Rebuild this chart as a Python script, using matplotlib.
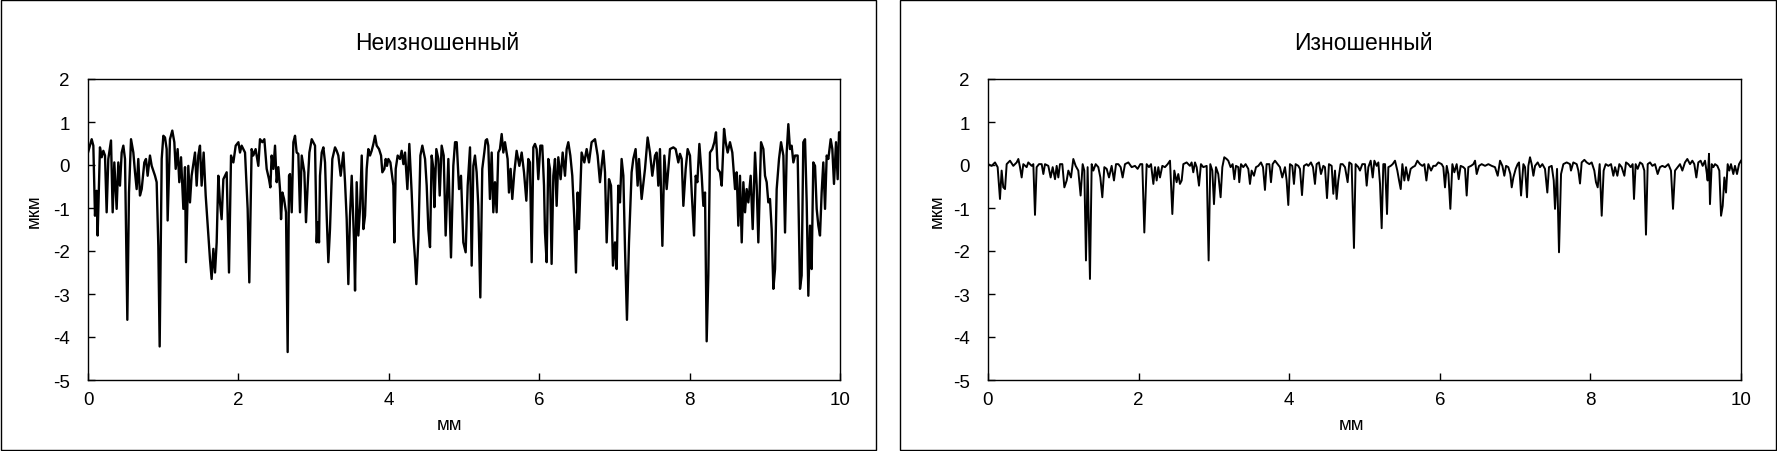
import matplotlib
matplotlib.use('Agg')
import matplotlib.pyplot as plt
from matplotlib.patches import Rectangle

plt.rcParams['font.family'] = ['Liberation Sans', 'DejaVu Sans']
plt.rcParams['axes.unicode_minus'] = False

# profile, unworn surface (mm, um)
x_new = [0.0, 0.049, 0.071, 0.093, 0.115, 0.128, 0.159, 0.182, 0.204, 0.226, 0.248, 0.270, 0.306, 0.328,
         0.350, 0.381, 0.403, 0.425, 0.448, 0.470, 0.492, 0.523, 0.545, 0.572, 0.603, 0.625, 0.647, 0.669,
         0.691, 0.714, 0.749, 0.771, 0.793, 0.824, 0.847, 0.891, 0.913, 0.935, 0.953, 0.980, 1.002, 1.024,
         1.046, 1.059, 1.090, 1.121, 1.148, 1.166, 1.192, 1.214, 1.237, 1.268, 1.290, 1.303, 1.334, 1.356,
         1.378, 1.423, 1.445, 1.467, 1.489, 1.511, 1.538, 1.565, 1.600, 1.622, 1.644, 1.667, 1.689, 1.711,
         1.733, 1.755, 1.777, 1.800, 1.844, 1.875, 1.902, 1.933, 1.964, 2.000, 2.021, 2.043, 2.088, 2.123,
         2.145, 2.176, 2.198, 2.229, 2.265, 2.287, 2.318, 2.345, 2.376, 2.407, 2.425, 2.442, 2.465,
         2.487, 2.509, 2.531, 2.553, 2.567, 2.585, 2.607, 2.633, 2.655, 2.673, 2.686, 2.709, 2.731, 2.753,
         2.775, 2.797, 2.819, 2.842, 2.877, 2.899, 2.921, 2.944, 2.975, 3.019, 3.041, 3.054, 3.072, 3.085,
         3.108, 3.130, 3.152, 3.174, 3.196, 3.218, 3.249, 3.285, 3.307, 3.329, 3.360, 3.396, 3.418, 3.440,
         3.462, 3.484, 3.507, 3.538, 3.551, 3.573, 3.595, 3.617, 3.640, 3.662, 3.684, 3.706, 3.728, 3.750,
         3.772, 3.795, 3.817, 3.839, 3.870, 3.897, 3.914, 3.941, 3.959, 3.976, 3.994, 4.021, 4.038, 4.061,
         4.074, 4.092, 4.118, 4.149, 4.171, 4.194, 4.216, 4.247, 4.273, 4.304, 4.327, 4.349, 4.366, 4.393,
         4.420, 4.446, 4.482, 4.504, 4.526, 4.548, 4.570, 4.593, 4.606, 4.632, 4.659, 4.677, 4.703, 4.730,
         4.756, 4.792, 4.827, 4.858, 4.881, 4.903, 4.934, 4.960, 4.991, 5.022,
         5.049, 5.080, 5.102, 5.124, 5.146, 5.168, 5.190, 5.217, 5.243, 5.270, 5.288, 5.306, 5.323, 5.345,
         5.368, 5.390, 5.412, 5.434, 5.456, 5.478, 5.501, 5.523, 5.545, 5.580, 5.598, 5.620, 5.642, 5.669,
         5.700, 5.736, 5.767, 5.798, 5.829, 5.855, 5.877, 5.900, 5.922, 5.944, 5.966, 5.988, 6.015, 6.041,
         6.064, 6.077, 6.099, 6.121, 6.143, 6.165, 6.188, 6.210, 6.232, 6.254, 6.285, 6.312, 6.343, 6.365,
         6.387, 6.414, 6.440, 6.467, 6.489, 6.511, 6.529, 6.564, 6.600, 6.631, 6.662, 6.697, 6.742, 6.777,
         6.808, 6.830, 6.853, 6.875, 6.897, 6.928, 6.955, 6.981, 7.008, 7.030, 7.052, 7.074, 7.096, 7.119,
         7.141, 7.167, 7.194, 7.229, 7.251, 7.282, 7.309, 7.327, 7.362, 7.407, 7.442, 7.473, 7.504, 7.540,
         7.562, 7.584, 7.606, 7.638, 7.664, 7.695, 7.717, 7.739, 7.784, 7.815, 7.850, 7.872, 7.895, 7.917,
         7.948, 7.974, 8.005, 8.028, 8.059, 8.081, 8.103, 8.130, 8.161, 8.183, 8.205, 8.227, 8.249, 8.271,
         8.302, 8.329, 8.351, 8.373, 8.404, 8.427, 8.458, 8.480, 8.506, 8.537, 8.568, 8.604, 8.626, 8.648,
         8.670, 8.693, 8.715, 8.737, 8.759, 8.781, 8.812, 8.839, 8.870, 8.892, 8.914, 8.950, 8.981, 9.003,
         9.025, 9.047, 9.069, 9.091, 9.114, 9.136, 9.158, 9.189, 9.216, 9.247, 9.269, 9.291, 9.313, 9.335,
         9.357, 9.380, 9.402, 9.437, 9.468, 9.490, 9.512, 9.535, 9.557, 9.579, 9.601, 9.623, 9.645, 9.668,
         9.690, 9.712, 9.734, 9.756, 9.778, 9.801, 9.823, 9.845, 9.876, 9.898, 9.920, 9.947, 9.969, 9.987,
         10.0]
y_new = [0.29, 0.60, 0.45, -1.18, -0.60, -1.64, 0.41, 0.18, 0.33, 0.22, -1.10, 0.14, 0.57, -1.10,
         0.06, -1.02, 0.06, -0.48, 0.29, 0.45, 0.14, -3.60, -0.64, 0.60, 0.29, -0.17, -0.56, 0.14,
         -0.71, -0.56, 0.06, 0.14, -0.25, 0.22, -0.02, -0.25, -0.40, -1.88, -4.22, 0.14, 0.68, 0.64,
         0.37, -1.29, 0.60, 0.80, 0.53, -0.09, 0.37, -0.40, 0.18, -1.02, -0.05, -2.26, -0.02, -0.87,
         -0.25, 0.29, -0.48, 0.22, 0.45, -0.48, 0.29, -0.71, -1.64, -2.19, -2.65, -1.95, -2.50, -1.80,
         -0.25, -0.87, -1.26, -0.33, -0.17, -2.50, 0.22, 0.06, 0.45, 0.53, 0.29, 0.45, 0.29, -1.02,
         -2.73, 0.37, 0.22, 0.37, -0.02, 0.60, 0.53, 0.60, -0.09, -0.33, -0.52, 0.22, -0.09,
         0.45, -0.40, -0.05, -0.56, -1.26, -0.64, -0.79, -1.10, -4.35, -0.25, -0.21, -1.10, 0.53, 0.68,
         0.29, 0.26, -1.10, 0.22, -0.17, -1.33, -0.48, 0.29, 0.60, 0.45, -1.80, -1.33, -1.80, -0.25,
         0.29, 0.41, 0.06, -1.18, -2.26, -1.49, 0.14, 0.41, 0.33, 0.22, -0.25, 0.29, -0.40, -1.26,
         -2.77, -1.18, -0.25, -1.80, -2.92, -0.40, -1.64, -1.02, 0.22, -1.49, -1.18, -0.09, 0.37, 0.22,
         0.33, 0.49, 0.68, 0.45, 0.37, 0.22, -0.17, -0.09, 0.14, -0.02, 0.14, 0.06, -0.17, -0.48,
         -1.80, -0.09, 0.22, 0.14, 0.33, 0.02, 0.29, -0.56, 0.49, -0.64, -1.64, -2.19, -2.77, -1.72,
         0.22, 0.45, 0.14, -0.48, -1.49, -1.91, 0.22, -0.09, -0.98, 0.37, 0.14, -0.71, 0.45, 0.22,
         -1.64, 0.14, -2.15, -0.02, 0.53, 0.53, -0.56, -0.25, -1.80, -2.03,
         -0.48, 0.41, -2.34, -0.02, 0.22, -0.17, -0.95, -3.08, -0.09, 0.29, 0.57, 0.60, 0.45, -0.79,
         0.29, -1.10, -0.40, -1.10, 0.29, 0.37, 0.72, 0.29, 0.53, 0.14, -0.64, -0.09, -0.79, -0.17,
         0.33, -0.02, 0.29, -0.17, -0.83, 0.14, 0.06, -2.26, 0.41, 0.49, 0.37, -0.33, 0.45, 0.45,
         -0.48, -1.57, -2.26, 0.14, -0.09, -2.30, -0.25, 0.14, -0.95, 0.18, -0.33, 0.29, -0.25, 0.37,
         0.53, 0.22, -0.25, -1.26, -2.50, -0.64, -1.49, 0.29, 0.06, 0.37, 0.06, 0.53, 0.60, 0.22,
         -0.40, -0.02, 0.33, -0.17, -1.80, -0.33, -0.48, -2.34, -1.80, -2.42, -0.48, -0.87, 0.14, -0.25,
         -1.95, -3.60, -1.80, -0.17, 0.14, 0.37, -0.48, 0.14, -0.79, -0.09, 0.64, 0.29, -0.25, 0.22,
         0.29, -0.48, 0.37, -1.88, 0.22, -0.56, -0.09, 0.37, 0.41, 0.37, 0.06, 0.26, 0.14, -0.95,
         -0.09, 0.37, 0.22, -0.64, -1.64, -0.25, -0.40, 0.49, -0.25, -0.95, -0.64, -4.10, -2.57, 0.29,
         0.37, 0.53, 0.76, -0.09, -0.17, -0.48, 0.84, 0.53, 0.29, 0.53, 0.29, -0.56, -0.17, -1.41,
         -0.25, -1.80, -0.40, -1.10, -0.56, -0.87, -0.25, -1.49, 0.29, -0.48, -1.80, 0.53, 0.37, -0.25,
         -0.40, -0.87, -0.79, -1.49, -2.88, -2.42, -0.56, 0.14, 0.53, 0.22, -1.57, 0.29, 0.95, 0.37,
         0.45, 0.06, 0.22, 0.22, -2.88, -2.57, 0.53, 0.60, -0.87, -3.04, -1.41, -2.42, 0.06, -0.02,
         -1.02, -1.41, -1.64, -0.64, 0.06, -1.02, 0.22, 0.14, 0.60, 0.37, -0.44, 0.53, -0.33, 0.76,
         0.76]

# profile, worn surface (mm, um)
x_worn = [0.0, 0.049, 0.093, 0.128, 0.159, 0.181, 0.203, 0.226, 0.248, 0.292, 0.336, 0.381, 0.403, 0.425,
          0.447, 0.469, 0.513, 0.535, 0.580, 0.602, 0.624, 0.646, 0.677, 0.713, 0.735, 0.757, 0.801, 0.832,
          0.859, 0.890, 0.912, 0.934, 0.956, 0.987, 1.014, 1.045, 1.067, 1.102, 1.133, 1.164, 1.199, 1.230,
          1.257, 1.279, 1.301, 1.323, 1.354, 1.377, 1.399, 1.430, 1.465, 1.492, 1.518, 1.545, 1.576, 1.607,
          1.642, 1.673, 1.700, 1.731, 1.762, 1.788, 1.819, 1.864, 1.908, 1.952, 1.987, 2.023, 2.049, 2.076,
          2.107, 2.138, 2.165, 2.196, 2.218, 2.240, 2.262, 2.284, 2.315, 2.350, 2.386, 2.417, 2.448, 2.474,
          2.505, 2.527, 2.549, 2.572, 2.594, 2.638, 2.682, 2.704, 2.726, 2.749, 2.771, 2.802, 2.828, 2.859,
          2.904, 2.930, 2.952, 2.979, 3.001, 3.027, 3.058, 3.089, 3.112, 3.138, 3.169, 3.191, 3.222, 3.249,
          3.271, 3.293, 3.324, 3.337, 3.360, 3.390, 3.421, 3.457, 3.479, 3.501, 3.532, 3.559, 3.590, 3.625,
          3.652, 3.678, 3.700, 3.736, 3.758, 3.780, 3.811, 3.846, 3.877, 3.908, 3.944, 3.966, 3.988, 4.010,
          4.041, 4.063, 4.085, 4.121, 4.143, 4.170, 4.196, 4.232, 4.254, 4.289, 4.316, 4.342, 4.364, 4.395,
          4.422, 4.453, 4.475, 4.502, 4.528, 4.564, 4.586, 4.608, 4.630, 4.652, 4.683, 4.710, 4.741, 4.776,
          4.798, 4.829, 4.860, 4.882, 4.918, 4.940, 4.971, 5.006,
          5.029, 5.051, 5.082, 5.109, 5.131, 5.162, 5.184, 5.206, 5.228, 5.250, 5.273, 5.299, 5.317, 5.348,
          5.374, 5.405, 5.436, 5.459, 5.481, 5.503, 5.529, 5.551, 5.582, 5.613, 5.640, 5.671, 5.702, 5.737,
          5.768, 5.795, 5.822, 5.848, 5.884, 5.914, 5.945, 5.981, 6.025, 6.047, 6.069, 6.092, 6.114, 6.140,
          6.167, 6.193, 6.224, 6.251, 6.277, 6.313, 6.335, 6.357, 6.379, 6.415, 6.446, 6.468, 6.490, 6.521,
          6.556, 6.601, 6.645, 6.689, 6.733, 6.769, 6.800, 6.831, 6.857, 6.880, 6.910, 6.937, 6.955, 6.977,
          7.008, 7.034, 7.052, 7.079, 7.110, 7.132, 7.158, 7.176, 7.198, 7.220, 7.243, 7.265, 7.300, 7.331,
          7.362, 7.397, 7.428, 7.450, 7.486, 7.513, 7.530, 7.557, 7.583,
          7.610, 7.641, 7.685, 7.729, 7.742, 7.773, 7.818, 7.840, 7.862, 7.884, 7.920, 7.951, 7.986, 8.017,
          8.052, 8.074, 8.097, 8.123, 8.150, 8.176, 8.203, 8.238, 8.274, 8.305, 8.327, 8.358, 8.384, 8.415,
          8.451, 8.473, 8.504, 8.535, 8.561, 8.579, 8.601, 8.628, 8.659, 8.690, 8.716, 8.738, 8.761, 8.792,
          8.823, 8.858, 8.893, 8.924, 8.955, 8.991, 9.035, 9.070, 9.097, 9.124, 9.159, 9.190, 9.221, 9.256,
          9.287, 9.323, 9.354, 9.380, 9.407, 9.433, 9.464, 9.491, 9.522, 9.544, 9.557, 9.575, 9.588, 9.611,
          9.633, 9.655, 9.686, 9.712, 9.735, 9.757, 9.779, 9.801, 9.823, 9.845, 9.867, 9.898, 9.920, 9.947,
          9.974, 10.0]
y_worn = [0.02, -0.02, 0.06, -0.05, -0.79, -0.13, -0.52, -0.56, 0.02, 0.10, -0.02, 0.06, 0.14, -0.05,
          -0.29, 0.02, -0.05, 0.06, -0.02, 0.02, -1.16, -0.05, 0.02, 0.02, -0.21, 0.02, -0.02, -0.29,
          -0.05, -0.33, -0.02, -0.29, 0.02, 0.02, -0.52, -0.36, -0.13, -0.29, 0.14, -0.02, -0.13, -0.71,
          0.02, -0.13, -2.22, -0.05, -2.65, 0.02, -0.13, 0.02, -0.05, -0.29, -0.75, -0.05, -0.09, -0.29,
          -0.02, -0.36, 0.02, 0.02, -0.05, -0.29, 0.02, 0.06, -0.05, -0.02, -0.09, 0.02, 0.02, -1.57,
          0.02, -0.05, 0.02, -0.44, -0.05, -0.36, -0.05, -0.29, -0.02, -0.05, 0.02, 0.10, -1.14, -0.13,
          -0.40, -0.21, -0.44, -0.36, 0.02, 0.06, -0.02, 0.06, -0.17, 0.06, -0.05, -0.48, 0.02, -0.05,
          -0.02, -2.22, 0.02, -0.13, -0.91, -0.05, -0.21, -0.75, -0.05, 0.18, 0.14, 0.10, -0.05, 0.02,
          -0.33, -0.02, -0.05, -0.40, 0.02, -0.05, 0.02, -0.09, -0.44, -0.13, -0.25, -0.05, -0.02, 0.06,
          -0.05, -0.58, 0.02, 0.02, -0.40, 0.02, 0.10, 0.02, -0.05, -0.29, -0.05, -0.36, -0.93, 0.02,
          -0.02, -0.44, 0.02, -0.02, -0.09, -0.70, -0.02, 0.02, -0.02, 0.06, -0.05, -0.44, 0.02, 0.06,
          -0.21, -0.02, -0.05, -0.77, 0.02, -0.02, -0.67, -0.13, -0.79, -0.36, 0.02, 0.02, -0.05, -0.40,
          0.06, 0.02, -1.93, 0.02, -0.05, -0.13, 0.02, 0.02,
          -0.48, -0.05, 0.10, -0.29, 0.10, -0.02, 0.06, -0.44, -1.47, 0.02, 0.02, -1.14, -0.05, -0.02,
          0.02, 0.10, -0.13, -0.36, -0.56, 0.02, -0.36, -0.05, -0.36, -0.09, -0.05, -0.02, 0.10, 0.02,
          -0.02, 0.02, -0.36, 0.02, -0.13, -0.02, -0.02, 0.06, 0.02, -0.05, -0.52, -0.02, -0.21, -1.02,
          0.02, -0.17, 0.02, -0.33, -0.02, -0.05, -0.09, -0.71, -0.05, -0.02, 0.02, 0.10, -0.21, -0.02,
          0.02, -0.02, 0.02, -0.02, -0.05, -0.25, 0.10, -0.02, -0.25, -0.02, -0.05, -0.21, -0.52, -0.29,
          -0.09, 0.02, 0.06, -0.71, 0.02, -0.05, -0.75, -0.02, 0.18, 0.02, -0.25, -0.02, 0.06, -0.05,
          0.02, -0.09, -0.64, -0.05, -0.02, -0.36, -1.02, -0.09, -2.03,
          -0.21, 0.02, 0.06, 0.02, -0.13, 0.06, 0.02, -0.13, -0.43, 0.06, 0.12, 0.06, 0.02, 0.06,
          -0.13, -0.40, -0.52, 0.02, -1.18, -0.13, 0.02, -0.02, 0.02, -0.25, -0.05, -0.25, 0.02, -0.05,
          -0.25, 0.06, 0.02, -0.05, 0.02, -0.79, 0.02, -0.09, 0.06, 0.02, -0.13, -1.62, 0.02, 0.06,
          -0.02, 0.02, -0.21, -0.05, -0.02, -0.05, 0.02, -0.13, -1.02, -0.13, -0.05, 0.02, -0.13, 0.06,
          0.14, 0.02, 0.10, 0.02, -0.29, 0.06, 0.10, -0.02, 0.10, -0.17, -0.36, 0.26, -0.91, 0.02,
          -0.05, 0.02, -0.02, -0.13, -1.18, -0.95, -0.29, -0.64, 0.02, -0.13, 0.02, -0.21, -0.02, -0.21,
          0.02, 0.10]

titles = ['Неизношенный', 'Изношенный']
x_ticks = [0, 2, 4, 6, 8, 10]
y_ticks = [-5, -4, -3, -2, -1, 0, 1, 2]

W, H = 1777, 452
fig = plt.figure(figsize=(W / 100, H / 100), dpi=100)

# chart frames, pixel boxes (left, top, right, bottom)
frames = [(0.5, 0.5, 876, 451), (900, 0.5, 1776, 451)]
for l, t, r, b in frames:
    fig.patches.append(Rectangle((l / W, 1 - b / H), (r - l) / W, (b - t) / H,
                                 transform=fig.transFigure, fill=False, ec='black', lw=1))

plot_boxes = [(88, 80, 840, 381), (988, 80, 1741, 381)]
title_x = [437, 1363]
xlab_x = [449, 1351]
ylab_x = [34, 937]
data = [(x_new, y_new, 1.7), (x_worn, y_worn, 1.4)]

for i in range(2):
    l, t, r, b = plot_boxes[i]
    ax = fig.add_axes([l / W, 1 - b / H, (r - l) / W, (b - t) / H])
    xs, ys, lw = data[i]
    ax.plot(xs, ys, color='black', lw=lw, solid_joinstyle='round')
    ax.set_xlim(0, 10)
    ax.set_ylim(-5, 2)
    ax.set_xticks(x_ticks)
    ax.set_yticks(y_ticks)
    ax.tick_params(direction='in', length=5, width=1, labelsize=13.5, color='black')
    ax.tick_params(axis='x', pad=8)
    ax.tick_params(axis='y', pad=13)
    for s in ax.spines.values():
        s.set_linewidth(1)
        s.set_color('black')
    fig.text(title_x[i] / W, 1 - 43 / H, titles[i], ha='center', va='center', fontsize=16.5)
    fig.text(xlab_x[i] / W, 1 - 426 / H, 'мм', ha='center', va='center', fontsize=13.5)
    fig.text(ylab_x[i] / W, 1 - 211 / H, 'мкм', ha='center', va='center', fontsize=13.5, rotation=90)

fig.savefig('out.png', dpi=100)
